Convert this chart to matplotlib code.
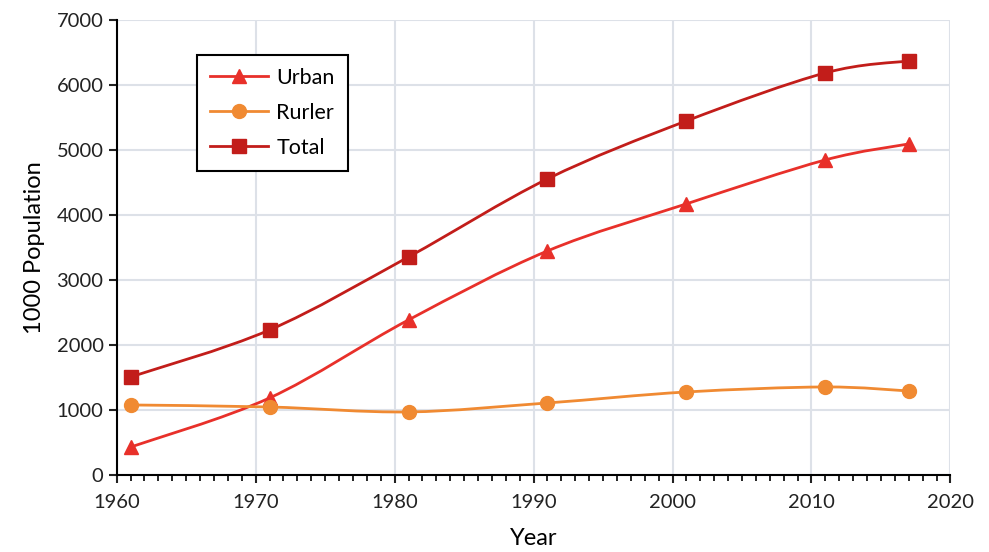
import matplotlib
matplotlib.use('Agg')
import matplotlib.pyplot as plt
from matplotlib.path import Path
from matplotlib.patches import PathPatch
from matplotlib.lines import Line2D
from matplotlib.ticker import MultipleLocator
import numpy as np

years = [1961, 1971, 1981, 1991, 2001, 2011, 2017]
urban = [430, 1185, 2385, 3446, 4170, 4846, 5092]
rural = [1077, 1046, 970, 1108, 1277, 1354, 1292]
total = [1508, 2231, 3354, 4554, 5446, 6185, 6369]

plt.rcParams['font.family'] = ['Lato', 'DejaVu Sans']


def smooth_path(x, y):
    # Excel-like smoothed line: Catmull-Rom segments as cubic Beziers
    pts = np.column_stack([x, y]).astype(float)
    verts = [pts[0]]
    codes = [Path.MOVETO]
    n = len(pts)
    for i in range(n - 1):
        p0 = pts[i - 1] if i > 0 else pts[i]
        p1 = pts[i]
        p2 = pts[i + 1]
        p3 = pts[i + 2] if i + 2 < n else pts[i + 1]
        c1 = p1 + (p2 - p0) / 6.0
        c2 = p2 - (p3 - p1) / 6.0
        verts += [c1, c2, p2]
        codes += [Path.CURVE4] * 3
    return Path(verts, codes)


fig, ax = plt.subplots(figsize=(9.89, 5.52), dpi=100)
fig.subplots_adjust(left=0.118, right=0.961, bottom=0.1395, top=0.964)

series = [
    ('Urban', urban, '#e8302a', '^', 10),
    ('Rurler', rural, '#f08a32', 'o', 10),
    ('Total', total, '#c21d1a', 's', 10),
]

handles = []
for name, vals, col, mk, ms in series:
    ax.add_patch(PathPatch(smooth_path(years, vals), facecolor='none',
                           edgecolor=col, lw=2, zorder=3))
    ax.plot(years, vals, linestyle='none', marker=mk, color=col,
            markersize=ms, zorder=4)
    handles.append(Line2D([], [], color=col, lw=2, marker=mk, markersize=ms))

ax.set_xlim(1960, 2020)
ax.set_ylim(0, 7000)
ax.xaxis.set_major_locator(MultipleLocator(10))
ax.xaxis.set_minor_locator(MultipleLocator(1))
ax.yaxis.set_major_locator(MultipleLocator(1000))

ax.grid(True, which='major', color='#dde1e8', lw=1.5, zorder=0)
ax.set_axisbelow(True)

for side in ['top', 'right']:
    ax.spines[side].set_visible(False)
for side in ['left', 'bottom']:
    ax.spines[side].set_linewidth(1.5)
    ax.spines[side].set_color('black')

ax.tick_params(axis='both', which='major', direction='out', length=6,
               width=1.5, labelsize=14.5, colors='#222222')
ax.tick_params(axis='x', which='minor', direction='out', length=4, width=1.2)
ax.tick_params(axis='x', which='major', pad=8)

ax.set_xlabel('Year', fontsize=17, labelpad=12)
ax.set_ylabel('1000 Population', fontsize=17, labelpad=8)

leg = ax.legend(handles, [s[0] for s in series], loc='upper left',
                bbox_to_anchor=(0.096, 0.923), borderaxespad=0,
                fancybox=False, edgecolor='black', framealpha=1,
                fontsize=15.5, handlelength=2.7, labelspacing=0.7,
                borderpad=0.6, handletextpad=0.4)
leg.get_frame().set_linewidth(1.5)

fig.savefig('out.png', dpi=100)
